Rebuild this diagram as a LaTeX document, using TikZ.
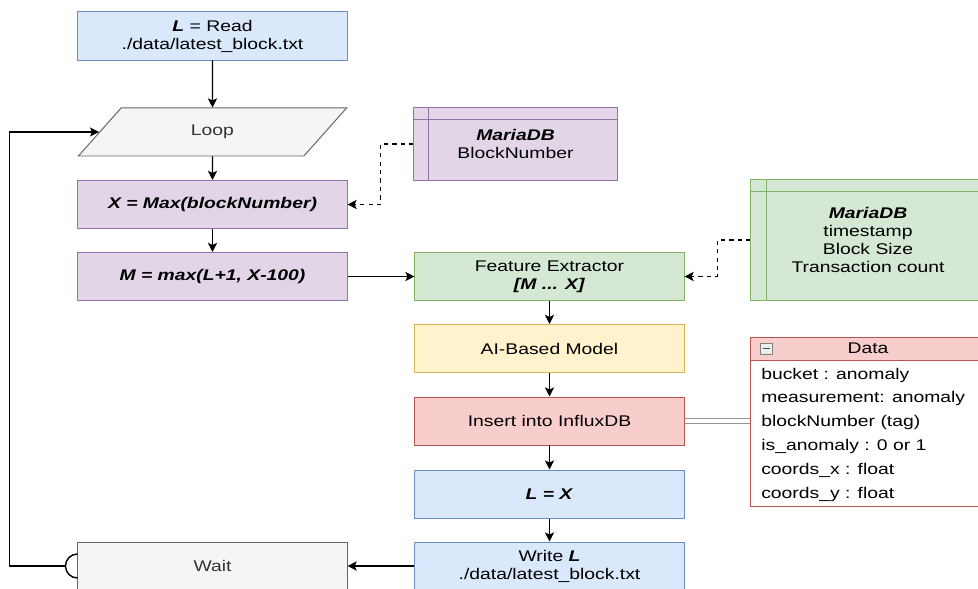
\documentclass[tikz,border=0pt]{standalone}
\usepackage{fontspec}
\setmainfont[FakeStretch=1.25]{Liberation Sans}
\usetikzlibrary{shapes.geometric,arrows.meta,positioning,calc}

\definecolor{blueFill}{HTML}{DAE8FC}
\definecolor{blueLine}{HTML}{6C8EBF}
\definecolor{grayFill}{HTML}{F5F5F5}
\definecolor{grayLine}{HTML}{666666}
\definecolor{grayText}{HTML}{333333}
\definecolor{purpleFill}{HTML}{E1D5E7}
\definecolor{purpleLine}{HTML}{9673A6}
\definecolor{greenFill}{HTML}{D5E8D4}
\definecolor{greenLine}{HTML}{82B366}
\definecolor{yellowFill}{HTML}{FFF2CC}
\definecolor{yellowLine}{HTML}{D6B656}
\definecolor{redFill}{HTML}{F8CECC}
\definecolor{redLine}{HTML}{B85450}

\begin{document}
\begin{tikzpicture}[x=0.025cm,y=-0.025cm]
\tikzstyle{every node}=[font=\fontsize{11}{12.8}\selectfont, align=center]
\tikzstyle{flowbox}=[draw, line width=0.7pt, minimum width=6.725cm, minimum height=1.2cm, inner sep=0pt]
\tikzstyle{bluebox}=[flowbox, draw=blueLine, fill=blueFill]
\tikzstyle{graybox}=[flowbox, draw=grayLine, fill=grayFill, text=grayText]
\tikzstyle{purplebox}=[flowbox, draw=purpleLine, fill=purpleFill]
\tikzstyle{greenbox}=[flowbox, draw=greenLine, fill=greenFill]
\tikzstyle{yellowbox}=[flowbox, draw=yellowLine, fill=yellowFill]
\tikzstyle{redbox}=[flowbox, draw=redLine, fill=redFill]
\tikzstyle{loopbox}=[trapezium, trapezium left angle=54, trapezium right angle=126, trapezium stretches=true, draw=grayLine, fill=grayFill, text=grayText, line width=0.7pt, minimum width=6.725cm, minimum height=1.2cm, inner sep=0pt]
\tikzstyle{flowarrow}=[draw, line width=1pt, -{Stealth[length=6.5pt, width=6.5pt, inset=1.5pt]}]
\tikzstyle{dasharrow}=[flowarrow, dashed, line width=0.8pt]
\tikzstyle{linkline}=[draw=gray!85, line width=0.7pt]
\tikzstyle{rowtext}=[anchor=west, inner sep=0pt]

\useasboundingbox (0,0) rectangle (978,589);
\clip (0,0) rectangle (978,589);

% main column
\node[bluebox] (read) at (212.5,36) {\textbf{\textit{L}} = Read\\./data/latest\_block.txt};
\node[loopbox] (loop) at (212.5,132) {Loop};
\node[purplebox] (maxx) at (212.5,204.5) {\textbf{\textit{X = Max(blockNumber)}}};
\node[purplebox] (minm) at (212.5,276.5) {\textbf{\textit{M = max(L+1, X-100)}}};
\node[graybox] (wait) at (212.5,566) {Wait};

% right column
\node[greenbox] (feat) at (549.5,276.5) {Feature Extractor\\\textbf{\textit{[M ... X]}}};
\node[yellowbox] (model) at (549.5,348.5) {AI-Based Model};
\node[redbox] (insert) at (549.5,421) {Insert into InfluxDB};
\node[bluebox] (setl) at (549.5,494) {\textbf{\textit{L = X}}};
\node[bluebox] (write) at (549.5,566) {Write \textbf{\textit{L}}\\./data/latest\_block.txt};

% databases
\node[draw=purpleLine, fill=purpleFill, line width=0.7pt, minimum width=5.075cm, minimum height=1.8cm] (db1) at (515.5,144) {\textbf{\textit{MariaDB}}\\BlockNumber};
\draw[purpleLine, line width=0.7pt] ($(db1.north west)+(15,0)$) -- ($(db1.south west)+(15,0)$);
\draw[purpleLine, line width=0.7pt] ($(db1.north west)+(0,12)$) -- ($(db1.north east)+(0,12)$);

\node[draw=greenLine, fill=greenFill, line width=0.7pt, minimum width=5.85cm, minimum height=3cm] (db2) at (868,240) {\textbf{\textit{MariaDB}}\\timestamp\\Block Size\\Transaction count};
\draw[greenLine, line width=0.7pt] ($(db2.north west)+(16,0)$) -- ($(db2.south west)+(16,0)$);
\draw[greenLine, line width=0.7pt] ($(db2.north west)+(0,12)$) -- ($(db2.north east)+(0,12)$);

% influx record
\node[draw=redLine, fill=redFill, line width=0.7pt, minimum width=5.85cm, minimum height=0.575cm, inner sep=0pt] (data) at (868,348.5) {Data};
\node[draw=redLine, fill=white, line width=0.7pt, minimum width=5.85cm, minimum height=3.625cm, inner sep=0pt, below=0pt of data] (rows) {};
\draw[gray, fill=gray!15, line width=0.5pt] (760,343) rectangle (772,354);
\draw[black!70, line width=0.8pt] (762.5,348.5) -- (769.5,348.5);
\foreach \txt [count=\i from 0] in {bucket : anomaly, measurement: anomaly, blockNumber (tag), is\_anomaly : 0 or 1, coords\_x : float, coords\_y : float}
  \node[rowtext] at (761,375+23.9*\i) {\txt};

% connectors
\draw[flowarrow] (read) -- (loop);
\draw[flowarrow] (loop) -- (maxx);
\draw[flowarrow] (maxx) -- (minm);
\draw[flowarrow] (minm) -- (feat);
\draw[flowarrow] (feat) -- (model);
\draw[flowarrow] (model) -- (insert);
\draw[flowarrow] (insert) -- (setl);
\draw[flowarrow] (setl) -- (write);
\draw[flowarrow] (write) -- (wait);
\draw[dasharrow] (db1.west) -- ++(-33,0) |- (maxx.east);
\draw[dasharrow] (db2.west) -- ++(-33,0) |- (feat.east);
\draw[linkline] ($(insert.east)+(0,-2.5)$) -- ($(rows.west |- insert.east)+(0,-2.5)$);
\draw[linkline] ($(insert.east)+(0,2.5)$) -- ($(rows.west |- insert.east)+(0,2.5)$);
\draw[line width=1pt] ($(wait.west)+(0,-12)$) arc[start angle=270, end angle=90, radius=12];
\draw[flowarrow] ($(wait.west)+(-12,0)$) -- ++(-56,0) |- (loop.west);
\end{tikzpicture}
\end{document}
